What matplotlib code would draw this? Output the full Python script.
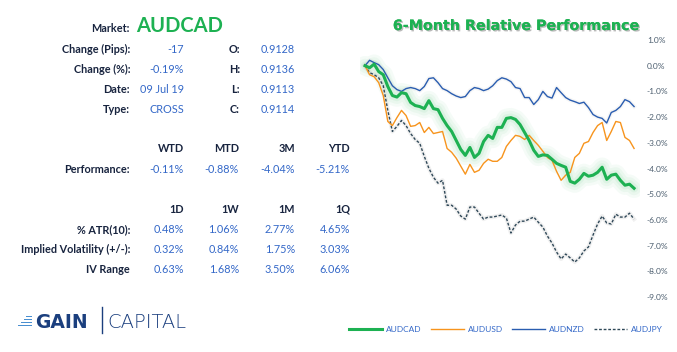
import numpy as np
import matplotlib
matplotlib.use("Agg")
import matplotlib.pyplot as plt
import matplotlib.patheffects as pe
from matplotlib.lines import Line2D
from matplotlib.patches import Rectangle

# 6-month relative performance, % change from start
audcad = [0.0, -0.08, 0.06, -0.23, -0.35, -0.81, -1.16, -1.22, -1.05, -1.09,
          -1.43, -1.55, -1.59, -1.67, -1.36, -1.67, -1.71, -2.05, -2.33, -2.56,
          -2.91, -3.26, -3.49, -3.18, -3.57, -3.41, -2.95, -2.71, -2.83, -2.40,
          -2.40, -2.05, -2.02, -2.09, -2.29, -2.60, -2.91, -3.29, -3.53, -3.47,
          -3.49, -3.64, -3.80, -3.88, -3.95, -4.50, -4.57, -4.42, -4.19, -4.30,
          -4.26, -4.15, -3.95, -4.42, -4.26, -4.22, -4.46, -4.65, -4.61, -4.77]
audusd = [0.0, -0.35, -0.43, -0.66, -1.16, -2.17, -2.33, -2.02, -1.74, -1.94,
          -2.36, -2.33, -2.21, -2.60, -2.40, -2.64, -2.60, -2.56, -3.22, -3.37,
          -3.60, -3.91, -4.22, -3.84, -4.15, -4.07, -3.80, -3.64, -3.72, -3.72,
          -3.57, -3.14, -2.91, -2.71, -2.75, -2.87, -2.71, -2.91, -3.10, -3.33,
          -3.57, -3.68, -4.11, -4.46, -4.26, -4.15, -3.57, -3.41, -3.02, -2.95,
          -2.60, -2.33, -2.21, -2.91, -2.56, -2.17, -2.21, -2.79, -2.91, -3.22]
audnzd = [0.0, 0.21, 0.12, 0.04, -0.15, -0.47, -0.78, -0.93, -1.00, -0.89,
          -0.85, -0.89, -0.97, -0.81, -0.50, -0.47, -0.66, -0.89, -0.97, -1.09,
          -1.18, -1.24, -1.20, -0.97, -0.85, -0.89, -0.97, -0.91, -0.78, -0.58,
          -0.47, -0.52, -0.62, -0.85, -0.89, -1.24, -1.24, -1.51, -1.32, -1.00,
          -1.20, -1.26, -0.85, -1.05, -1.24, -1.34, -1.40, -1.47, -1.42, -1.63,
          -1.90, -2.00, -2.05, -2.23, -1.82, -1.74, -1.59, -1.32, -1.40, -1.59]
audjpy = [0.0, -0.27, -0.35, -0.47, -0.78, -1.74, -2.56, -2.36, -2.13, -2.33,
          -2.64, -2.87, -3.02, -3.53, -3.99, -4.34, -4.57, -4.46, -5.43, -5.43,
          -5.58, -5.85, -5.97, -5.50, -5.50, -5.74, -5.97, -5.89, -5.89, -5.85,
          -5.81, -5.93, -6.51, -6.20, -6.05, -6.05, -5.97, -5.89, -6.09, -6.28,
          -6.63, -6.90, -7.25, -7.52, -7.33, -7.48, -7.64, -7.48, -7.21, -7.05,
          -6.59, -6.16, -5.85, -6.12, -6.16, -5.78, -5.89, -5.89, -5.74, -5.97]
yticks = [1, 0, -1, -2, -3, -4, -5, -6, -7, -8, -9]

market = "AUDCAD"
info_labels = ["Change (Pips):", "Change (%):", "Date:", "Type:"]
info_values = ["-17", "-0.19%", "09 Jul 19", "CROSS"]
ohlc_labels = ["O:", "H:", "L:", "C:"]
ohlc_values = ["0.9128", "0.9136", "0.9113", "0.9114"]
perf_cols = ["WTD", "MTD", "3M", "YTD"]
perf_values = ["-0.11%", "-0.88%", "-4.04%", "-5.21%"]
vol_cols = ["1D", "1W", "1M", "1Q"]
vol_rows = ["% ATR(10):", "Implied Volatility (+/-):", "IV Range"]
vol_values = [["0.48%", "1.06%", "2.77%", "4.65%"],
              ["0.32%", "0.84%", "1.75%", "3.03%"],
              ["0.63%", "1.68%", "3.50%", "6.06%"]]

W, H = 677, 352
navy = "#18243f"
blue_txt = "#3468c8"
green = "#1db152"
font = "Lato"

fig = plt.figure(figsize=(W / 100, H / 100), dpi=100)
fig.patch.set_facecolor("white")

# overlay axes in pixel coordinates for the table, title and logo
ov = fig.add_axes([0, 0, 1, 1])
ov.set_xlim(0, W)
ov.set_ylim(H, 0)
ov.axis("off")

def lab(x, y, s, **kw):
    kw.setdefault("fontsize", 7.8)
    kw.setdefault("family", font)
    ov.text(x, y, s, ha="right", va="baseline", **kw)

lab(130, 32, "Market:", color=navy, weight="bold")
ov.text(136, 32, market, ha="left", va="baseline", fontsize=14.5,
        family=font, weight="bold", color=green)
for i in range(4):
    yb = 53 + 20 * i
    lab(130, yb, info_labels[i], color=navy, weight="bold")
    lab(184, yb, info_values[i], color=blue_txt)
    lab(240, yb, ohlc_labels[i], color=navy, weight="bold")
    lab(295, yb, ohlc_values[i], color=blue_txt)

cols_x = [184, 239, 295, 350]
for j in range(4):
    lab(cols_x[j], 152, perf_cols[j], color=navy, weight="bold")
    lab(cols_x[j], 173, perf_values[j], color=blue_txt)
    lab(cols_x[j], 213, vol_cols[j], color=navy, weight="bold")
lab(130, 173, "Performance:", color=navy, weight="bold")
for i in range(3):
    yb = 233 + 20 * i
    lab(130, yb, vol_rows[i], color=navy, weight="bold")
    for j in range(4):
        lab(cols_x[j], yb, vol_values[i][j], color=blue_txt)

# logo
logo_navy = "#1b3f7e"
for k, left in enumerate([26, 24, 21, 18]):
    ov.add_patch(Rectangle((left, 315.5 + 3 * k), 32 - left, 1.8,
                           color="#4a8fd0", lw=0))
ov.text(35, 327.5, "GAIN", ha="left", va="baseline", fontsize=13.5,
        family="DejaVu Sans", weight="heavy", color=logo_navy)
ov.plot([102, 102], [307, 333], color=logo_navy, lw=1)
ov.text(107, 327.5, "CAPITAL", ha="left", va="baseline", fontsize=14,
        family="DejaVu Sans", weight="light", color=logo_navy)

# title
ov.text(516, 26, "6-Month Relative Performance", ha="center", va="center",
        fontsize=10.3, family="DejaVu Sans", weight="bold", color=green,
        path_effects=[pe.withSimplePatchShadow(offset=(1, -1),
                                               shadow_rgbFace="#777777",
                                               alpha=0.5), pe.Normal()])

# chart
ax = fig.add_axes([360 / W, 1 - 297 / H, 280 / W, 257 / H])
ax.set_facecolor("none")
x = np.arange(len(audcad))
for lw, a in [(14, 0.05), (10, 0.06), (6, 0.08)]:
    ax.plot(x, audcad, color="#3cc36b", lw=lw, alpha=a,
            solid_joinstyle="round", solid_capstyle="round")
ax.plot(x, audjpy, color="#888888", lw=3, alpha=0.12)
ax.plot(x, audnzd, color="#888888", lw=3, alpha=0.08)
l_jpy, = ax.plot(x, audjpy, color="#2f4858", lw=1, ls=(0, (2, 1.3)))
l_nzd, = ax.plot(x, audnzd, color="#2a5db0", lw=1)
l_usd, = ax.plot(x, audusd, color="#f7941d", lw=1)
l_cad, = ax.plot(x, audcad, color=green, lw=2.2)

ax.set_xlim(-1.1, 60.3)
ax.set_ylim(-9, 1)
ax.set_xticks([])
ax.yaxis.tick_right()
ax.set_yticks(yticks)
ax.set_yticklabels([f"{v:.1f}%" for v in yticks])
ax.tick_params(axis="y", length=0, pad=5, labelsize=6, labelcolor="#4b5d6e")
for t in ax.get_yticklabels():
    t.set_family(font)
for s in ax.spines.values():
    s.set_visible(False)

handles = [Line2D([], [], color=green, lw=2.2),
           Line2D([], [], color="#f7941d", lw=1),
           Line2D([], [], color="#2a5db0", lw=1),
           Line2D([], [], color="#2f4858", lw=1, ls=(0, (2, 1.3)))]
leg = fig.legend(handles, ["AUDCAD", "AUDUSD", "AUDNZD", "AUDJPY"],
                 loc="center left", bbox_to_anchor=(349 / W, 1 - 329 / H),
                 ncol=4, frameon=False, handlelength=4.0,
                 handletextpad=0.45, columnspacing=1.1, borderpad=0,
                 borderaxespad=0, prop={"family": font, "size": 6})
for t in leg.get_texts():
    t.set_color(blue_txt)

fig.savefig("out.png", dpi=100, facecolor="white")
